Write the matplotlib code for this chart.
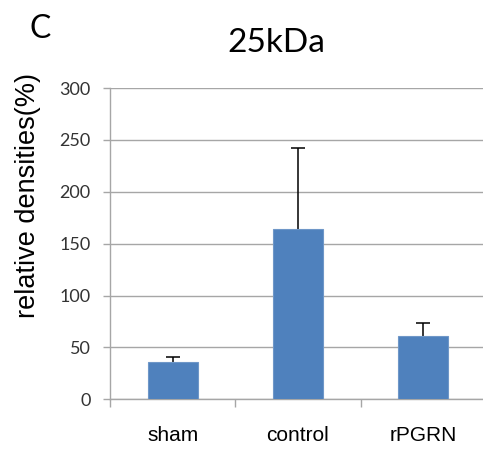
import matplotlib
matplotlib.use("Agg")
import matplotlib.pyplot as plt
import numpy as np

# values
groups = ["sham", "control", "rPGRN"]
density = [36, 164, 61]
err_up = [5, 78, 13]
yticks = [0, 50, 100, 150, 200, 250, 300]

bar_color = "#4F81BD"
grey = "#A6A6A6"

fig = plt.figure(figsize=(4.83, 4.49), dpi=100)
ax = fig.add_axes([0.2277, 0.1107, 0.7785, 0.6933])

x = np.arange(len(groups))
ax.bar(x, density, width=0.4, color=bar_color, edgecolor="#6F97C8",
       linewidth=0.8, zorder=3)
# the lower half of the error bar sits behind the bar, like in excel
ax.errorbar(x, density, yerr=err_up, fmt="none",
            ecolor="black", elinewidth=1.1, capsize=5, capthick=1.1, zorder=2)

ax.set_xlim(-0.5, 2.5)
ax.set_ylim(0, 300)
ax.set_yticks(yticks)
ax.yaxis.grid(True, color=grey, linewidth=1, zorder=0)
ax.set_axisbelow(True)

for s in ["top", "right"]:
    ax.spines[s].set_visible(False)
for s in ["left", "bottom"]:
    ax.spines[s].set_color(grey)
    ax.spines[s].set_linewidth(1)

ax.set_xticks(x)
ax.set_xticklabels(groups, fontsize=15, family="Liberation Sans")
ax.set_xticks([-0.5, 0.5, 1.5, 2.5], minor=True)
ax.tick_params(axis="x", which="major", length=0, pad=19, colors="black")
ax.tick_params(axis="x", which="minor", length=5.5, color=grey, width=1)
ax.tick_params(axis="y", length=5, color=grey, width=1, pad=9,
               labelcolor="#333333")
for lab in ax.get_yticklabels():
    lab.set_family("Lato")
    lab.set_fontsize(13)

fig.text(0.059, 0.5646, "relative densities(%)", rotation=90, ha="center",
         va="center", fontsize=19.5, family="Liberation Sans")
fig.text(0.573, 0.885, "25kDa", ha="center", va="baseline", fontsize=24,
         family="Lato")
fig.text(0.0828, 0.9147, "C", ha="center", va="baseline", fontsize=23,
         family="Lato")

fig.savefig("out.png", dpi=100)
